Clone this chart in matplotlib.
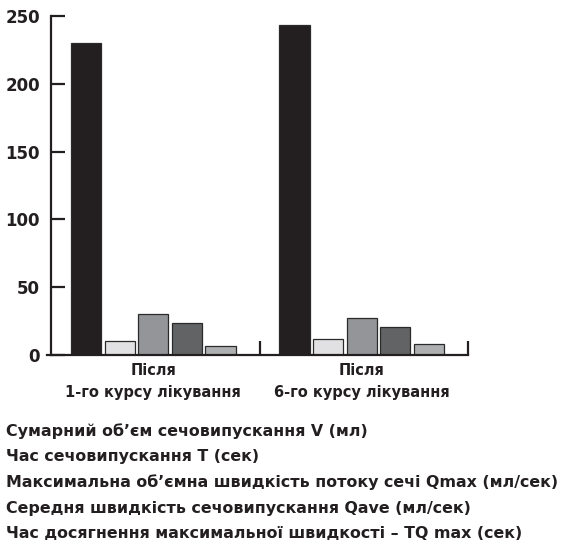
import numpy as np
import matplotlib
matplotlib.use('Agg')
import matplotlib.pyplot as plt

# data
groups = ['Після\n1-го курсу лікування', 'Після\n6-го курсу лікування']
series = [
    'Сумарний об\u02bcєм сечовипускання V (мл)',
    'Час сечовипускання T (сек)',
    'Максимальна об\u02bcємна швидкість потоку сечі Qmax (мл/сек)',
    'Середня швидкість сечовипускання Qave (мл/сек)',
    'Час досягнення максимальної швидкості \u2013 TQ max (сек)',
]
values = [
    [230, 243],   # V
    [10, 12],     # T
    [30, 27],     # Qmax
    [23.5, 21],   # Qave
    [7, 8],       # TQmax
]
colors = ['#231f20', '#e1e1e3', '#949598', '#626365', '#aeafb1']
yticks = [0, 50, 100, 150, 200, 250]

plt.rcParams['font.family'] = ['DejaVu Sans']
plt.rcParams['font.weight'] = 'bold'

fig = plt.figure(figsize=(5.63, 5.43), dpi=100)
ax = fig.add_axes([47 / 563, (543 - 355) / 543, (468 - 47) / 563, (355 - 16) / 543])

centers = np.array([0.49, 1.49])
step = 0.161
width = 0.145
for i, (vals, col) in enumerate(zip(values, colors)):
    ax.bar(centers + (i - 2) * step, vals, width=width, color=col,
           edgecolor='#2a2a2a', linewidth=0.9, label=series[i])

ax.set_xlim(-0.02, 2)
ax.set_ylim(0, 250)
ax.spines['top'].set_visible(False)
ax.spines['right'].set_visible(False)
ax.spines['left'].set_position(('data', 0))
ax.spines['left'].set_linewidth(1.6)
ax.spines['bottom'].set_linewidth(1.6)
ax.spines['left'].set_color('#231f20')
ax.spines['bottom'].set_color('#231f20')

ax.set_yticks(yticks)
ax.set_yticklabels([str(t) for t in yticks], fontsize=12, fontweight='bold', color='#231f20')
ax.tick_params(axis='y', direction='in', length=10, width=1.6, color='#231f20', pad=8)

ax.set_xticks([1, 2])
ax.set_xticklabels([])
ax.tick_params(axis='x', direction='in', length=10, width=1.6, color='#231f20')

for c, g in zip(centers, groups):
    ax.text(c, -6, g, ha='center', va='top', fontsize=10.5, fontweight='bold',
            color='#231f20', linespacing=1.6, transform=ax.transData)

for i, s in enumerate(series):
    fig.text(6 / 563, 1 - (431 + i * 25.7) / 543, s, ha='left', va='center',
             fontsize=11.4, fontweight='bold', color='#231f20')

plt.savefig('out.png', dpi=100)
